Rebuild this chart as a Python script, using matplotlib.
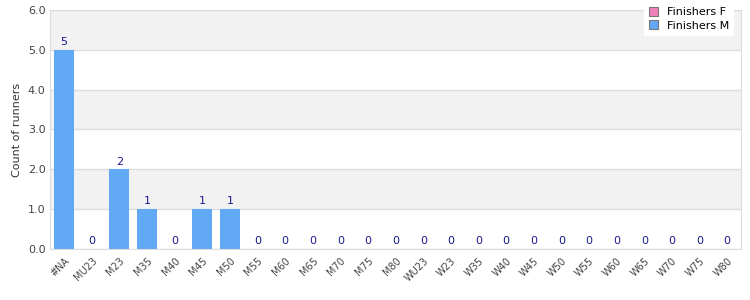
import matplotlib.pyplot as plt
import numpy as np

categories = ["#NA", "MU23", "M23", "M35", "M40", "M45", "M50", "M55", "M60", "M65",
              "M70", "M75", "M80", "WU23", "W23", "W35", "W40", "W45", "W50", "W55",
              "W60", "W65", "W70", "W75", "W80"]
finishers_m = [5, 0, 2, 1, 0, 1, 1, 0, 0, 0, 0, 0, 0, 0, 0, 0, 0, 0, 0, 0, 0, 0, 0, 0, 0]
finishers_f = [0] * len(categories)

fig = plt.figure(figsize=(7.5, 3), dpi=100)
ax = fig.add_axes([0.067, 0.17, 0.921, 0.797])

x = np.arange(len(categories))
ax.set_xlim(-0.5, len(categories) - 0.5)
ax.set_ylim(0, 6)

# alternating bands
for lo in range(0, 6):
    if lo % 2 == 1:
        ax.axhspan(lo, lo + 1, color="#f2f2f2", zorder=0, lw=0)
ax.set_yticks(np.arange(0, 7, 1))
ax.set_yticklabels([f"{v:.1f}" for v in range(0, 7)])
ax.yaxis.grid(True, color="#dddddd", lw=1, zorder=1)
ax.set_axisbelow(True)

ax.bar(x, finishers_f, width=0.72, color="#f080b8", edgecolor="none", label="Finishers F", zorder=2)
ax.bar(x, finishers_m, width=0.72, color="#62a9f5", edgecolor="none", label="Finishers M", zorder=2)
for xi, v in zip(x, finishers_m):
    ax.text(xi, v + 0.07, str(v), ha="center", va="bottom", fontsize=8, color="#1a1a8c", zorder=3)

ax.set_xticks(x)
ax.set_xticklabels(categories, rotation=45, ha="right", rotation_mode="anchor", fontsize=7, color="#444444")
ax.tick_params(axis="y", labelsize=8, labelcolor="#444444", length=0)
ax.tick_params(axis="x", length=0, pad=5)
for s in ax.spines.values():
    s.set_color("#dddddd")
ax.set_ylabel("Count of runners", fontsize=8, color="#333333")

leg = fig.legend(loc="upper right", bbox_to_anchor=(0.985, 1.01), fontsize=8, frameon=True,
                 fancybox=False, handlelength=0.8, handleheight=0.8, borderpad=0.4, labelspacing=0.3)
leg.get_frame().set_edgecolor("white")
leg.get_frame().set_facecolor("white")
leg.get_frame().set_alpha(1)
for h in leg.legend_handles:
    h.set_edgecolor("#777777")
    h.set_linewidth(0.8)

fig.savefig("out.png", dpi=100)
